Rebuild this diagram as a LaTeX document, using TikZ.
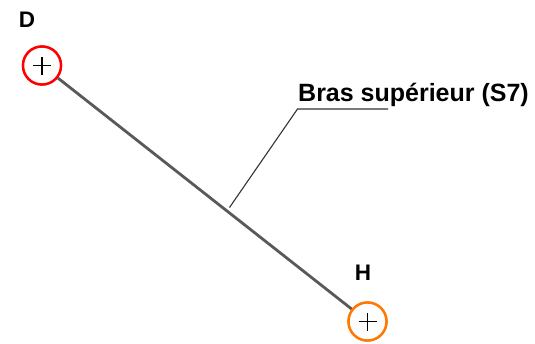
\documentclass[tikz,border=0pt]{standalone}
\usepackage{fontspec}
\setmainfont{Liberation Sans}
\begin{document}
\begin{tikzpicture}[x=1pt,y=-1pt,
  pt/.style={circle,draw=#1,line width=2.4pt,fill=white,minimum size=38pt,inner sep=0pt},
  lbl/.style={font=\fontsize{22.5}{22.5}\selectfont\bfseries,inner sep=0pt},
  cross/.style={line width=1.3pt,black}]
\useasboundingbox (0,0) rectangle (535,343);
\node[pt=red] (D) at (42,65.5) {};
\node[pt=orange!95!red] (H) at (367.5,321.5) {};
\draw[line width=2.8pt,black!65] (D) -- (H);
\node[pt=red] at (D) {};
\node[pt=orange!95!red] at (H) {};
\foreach \n in {D,H}{
  \draw[cross] ([xshift=-9pt]\n.center) -- ([xshift=9pt]\n.center);
  \draw[cross] ([yshift=-9pt]\n.center) -- ([yshift=9pt]\n.center);
}
\node[lbl] (Dl) at (27,20) {D};
\node[lbl] (Hl) at (363,273) {H};
\coordinate (a) at (229.5,207.5);
\coordinate (b) at (297.5,109);
\coordinate (c) at (388,109);
\draw[line width=1.1pt,black!80] (a) -- (b) -- (c);
\node[anchor=base west,inner sep=0pt,font=\fontsize{25}{25}\selectfont\bfseries] (t) at (298,101.5) {Bras supérieur (S7)};
\end{tikzpicture}
\end{document}
